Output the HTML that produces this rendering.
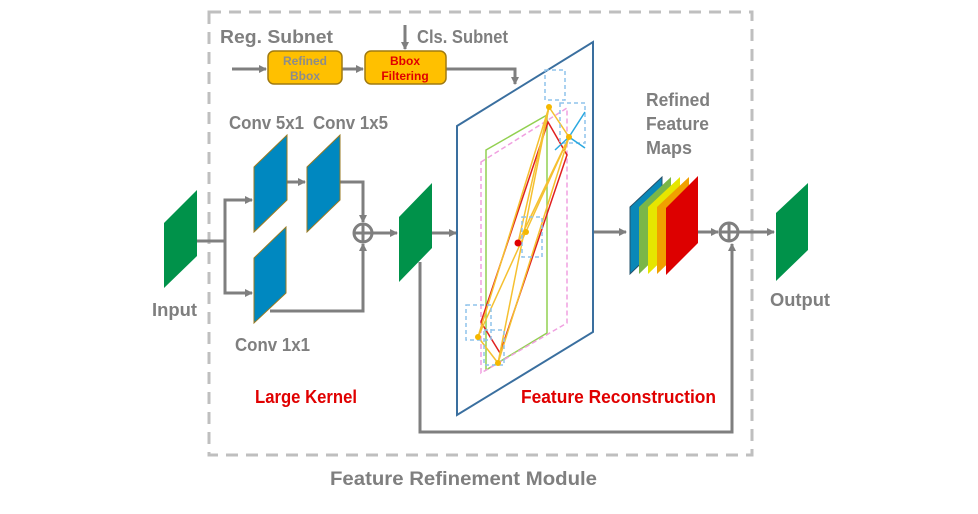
<!DOCTYPE html>
<html><head><meta charset="utf-8"><style>
html,body{margin:0;padding:0;background:#fff}
svg{display:block}
text{font-family:"Liberation Sans",sans-serif;font-weight:bold}
</style></head><body>
<svg width="978" height="514" viewBox="0 0 978 514" xmlns="http://www.w3.org/2000/svg">
<defs>
<marker id="a" markerWidth="8" markerHeight="8" refX="7" refY="4" orient="auto" markerUnits="userSpaceOnUse"><path d="M0,0 L8,4 L0,8 z" fill="#7f7f7f"/></marker>
</defs>
<rect x="209" y="12" width="543" height="443" fill="none" stroke="#bfbfbf" stroke-width="3" stroke-dasharray="12,8"/>
<text x="330" y="485" font-size="19" fill="#7f7f7f" textLength="267" lengthAdjust="spacingAndGlyphs">Feature Refinement Module</text>

<g stroke="#7f7f7f" stroke-width="3" fill="none">
<line x1="232" y1="69" x2="266" y2="69" marker-end="url(#a)"/>
<line x1="342" y1="69" x2="363" y2="69" marker-end="url(#a)"/>
<line x1="405" y1="25" x2="405" y2="49" marker-end="url(#a)"/>
<polyline points="446,69 515,69 515,84" marker-end="url(#a)"/>
<polyline points="197,241 225,241 225,200 252,200" marker-end="url(#a)"/>
<polyline points="225,241 225,293 252,293" marker-end="url(#a)"/>
<line x1="287" y1="182" x2="305" y2="182" marker-end="url(#a)"/>
<polyline points="340,182 363,182 363,222" marker-end="url(#a)"/>
<polyline points="270,311 363,311 363,244" marker-end="url(#a)"/>
<line x1="372" y1="233" x2="397" y2="233" marker-end="url(#a)"/>
<line x1="432" y1="233" x2="456" y2="233" marker-end="url(#a)"/>
<polyline points="420,262 420,432 732,432 732,244" marker-end="url(#a)"/>
<line x1="594" y1="232" x2="626" y2="232" marker-end="url(#a)"/>
<line x1="698" y1="232" x2="718" y2="232" marker-end="url(#a)"/>
<line x1="738" y1="232" x2="774" y2="232" marker-end="url(#a)"/>
<circle cx="363" cy="233" r="9"/><line x1="354" y1="233" x2="372" y2="233"/><line x1="363" y1="224" x2="363" y2="242"/>
<circle cx="729" cy="232" r="9"/><line x1="720" y1="232" x2="738" y2="232"/><line x1="729" y1="223" x2="729" y2="241"/>
</g>

<rect x="268" y="51" width="74" height="33" rx="6" fill="#ffc000" stroke="#a07a10" stroke-width="1.5"/>
<text x="305" y="65" font-size="12" fill="#8c8c8c" text-anchor="middle">Refined</text>
<text x="305" y="80" font-size="12" fill="#8c8c8c" text-anchor="middle">Bbox</text>
<rect x="365" y="51" width="81" height="33" rx="6" fill="#ffc000" stroke="#a07a10" stroke-width="1.5"/>
<text x="405" y="65" font-size="12" fill="#e00000" text-anchor="middle">Bbox</text>
<text x="405" y="80" font-size="12" fill="#e00000" text-anchor="middle">Filtering</text>
<text x="220" y="43" font-size="18" fill="#7f7f7f" textLength="113" lengthAdjust="spacingAndGlyphs">Reg. Subnet</text>
<text x="417" y="43" font-size="18" fill="#7f7f7f" textLength="91" lengthAdjust="spacingAndGlyphs">Cls. Subnet</text>

<polygon points="164,223 197,190 197,256 164,288" fill="#00924a"/>
<polygon points="254,167 287,135 287,200 254,232" fill="#0088c0" stroke="#9a7a20" stroke-width="1"/>
<polygon points="307,167 340,135 340,200 307,232" fill="#0088c0" stroke="#9a7a20" stroke-width="1"/>
<polygon points="254,258 286,227 286,293 254,323" fill="#0088c0" stroke="#9a7a20" stroke-width="1"/>
<polygon points="399,217 432,183 432,248 399,282" fill="#00924a"/>
<polygon points="776,213 808,183 808,250 776,281" fill="#00924a"/>
<polygon points="630,207 662,177 662,243 630,274" fill="#0a88b8" stroke="#24506a" stroke-width="1"/>
<polygon points="639,207 671,177 671,243 639,274" fill="#7ab648"/>
<polygon points="648,207 680,177 680,243 648,274" fill="#e6e600"/>
<polygon points="657,207 689,177 689,243 657,274" fill="#f0a000"/>
<polygon points="666,208 698,176 698,243 666,275" fill="#dd0000"/>

<polygon points="457,126 593,42 593,332 457,415" fill="#fff" stroke="#3a6f9f" stroke-width="2"/>
<g fill="none" stroke-width="1.5">
<polygon points="486,150 547,115 547,333 486,370" stroke="#92d050"/>
<polygon points="481,162 567,108 567,323 481,373" stroke="#f0a0e0" stroke-dasharray="5,3"/>
<polygon points="548,122 567,155 500,353 481,322" stroke="#e02020"/>
<g stroke="#f5c030">
<line x1="549" y1="107" x2="478" y2="337"/><line x1="549" y1="107" x2="498" y2="363"/>
<line x1="569" y1="137" x2="478" y2="337"/><line x1="569" y1="137" x2="498" y2="363"/>
<line x1="549" y1="107" x2="518" y2="243"/><line x1="569" y1="137" x2="518" y2="243"/>
<line x1="549" y1="107" x2="569" y2="137"/><line x1="478" y1="337" x2="498" y2="363"/>
</g>
<g stroke="#8fc3ec" stroke-dasharray="4,3">
<rect x="545" y="70" width="20" height="30"/><rect x="560" y="103" width="25" height="40"/>
<rect x="466" y="305" width="25" height="35"/><rect x="484" y="330" width="20" height="35"/>
<rect x="522" y="217" width="20" height="40"/>
</g>
<g stroke="#2aa8e0"><line x1="569" y1="137" x2="585" y2="112"/><line x1="569" y1="137" x2="585" y2="148"/><line x1="569" y1="137" x2="555" y2="150"/></g>
</g>
<g fill="#f5b800"><circle cx="549" cy="107" r="3"/><circle cx="569" cy="137" r="3"/><circle cx="478" cy="337" r="3"/><circle cx="498" cy="363" r="3"/><circle cx="526" cy="232" r="3"/></g>
<circle cx="518" cy="243" r="3.5" fill="#e00000"/>

<text x="229" y="129" font-size="18" fill="#7f7f7f" textLength="75" lengthAdjust="spacingAndGlyphs">Conv 5x1</text>
<text x="313" y="129" font-size="18" fill="#7f7f7f" textLength="75" lengthAdjust="spacingAndGlyphs">Conv 1x5</text>
<text x="235" y="351" font-size="18" fill="#7f7f7f" textLength="75" lengthAdjust="spacingAndGlyphs">Conv 1x1</text>
<text x="152" y="316" font-size="18" fill="#7f7f7f" textLength="45" lengthAdjust="spacingAndGlyphs">Input</text>
<text x="770" y="306" font-size="18" fill="#7f7f7f" textLength="60" lengthAdjust="spacingAndGlyphs">Output</text>
<text x="646" y="106" font-size="18" fill="#7f7f7f" textLength="64" lengthAdjust="spacingAndGlyphs">Refined</text>
<text x="646" y="130" font-size="18" fill="#7f7f7f" textLength="63" lengthAdjust="spacingAndGlyphs">Feature</text>
<text x="646" y="154" font-size="18" fill="#7f7f7f" textLength="46" lengthAdjust="spacingAndGlyphs">Maps</text>
<text x="255" y="403" font-size="18" fill="#e00000" textLength="102" lengthAdjust="spacingAndGlyphs">Large Kernel</text>
<text x="521" y="403" font-size="18" fill="#e00000" textLength="195" lengthAdjust="spacingAndGlyphs">Feature Reconstruction</text>
</svg>
</body></html>
